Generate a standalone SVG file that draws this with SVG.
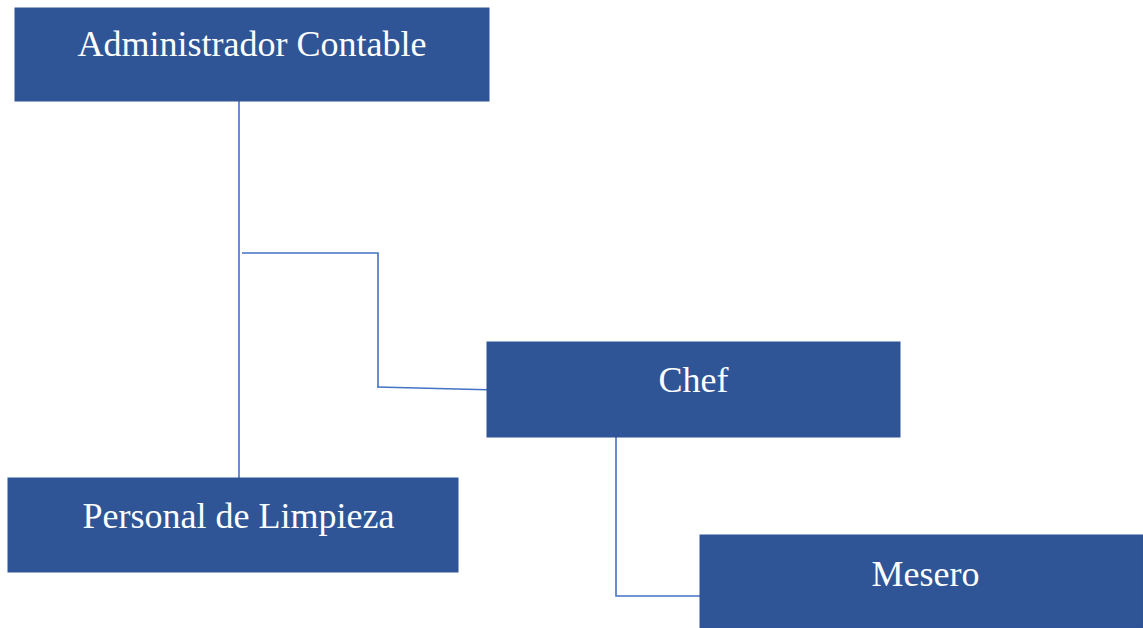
<svg xmlns="http://www.w3.org/2000/svg" width="1143" height="628" viewBox="0 0 1143 628">
<style>
.box{fill:#2F5597;stroke:#2F5597;stroke-width:1}
.lbl{fill:#ffffff;font-family:"Liberation Serif","Times New Roman",serif;font-size:36px;text-anchor:middle}
.conn{fill:none;stroke:#4472C4;stroke-width:1.6}
</style>
<rect width="1143" height="628" fill="#ffffff"/>
<g id="connectors">
<line class="conn" x1="239" y1="101" x2="239" y2="478"/>
<polyline class="conn" points="242,253 378,253 378,387"/>
<line class="conn" x1="377" y1="387" x2="497" y2="390"/>
<polyline class="conn" points="616,437 616,596 700,596"/>
</g>
<g id="node-admin">
<rect class="box" x="15" y="8" width="474" height="93"/>
<text class="lbl" x="252" y="56">Administrador Contable</text>
</g>
<g id="node-chef">
<rect class="box" x="487" y="342" width="413" height="95"/>
<text class="lbl" x="693.5" y="392">Chef</text>
</g>
<g id="node-personal">
<rect class="box" x="8" y="478" width="450" height="94"/>
<text class="lbl" x="238.5" y="528">Personal de Limpieza</text>
</g>
<g id="node-mesero">
<rect class="box" x="700" y="535" width="443" height="93"/>
<text class="lbl" x="925.5" y="586">Mesero</text>
</g>
</svg>
